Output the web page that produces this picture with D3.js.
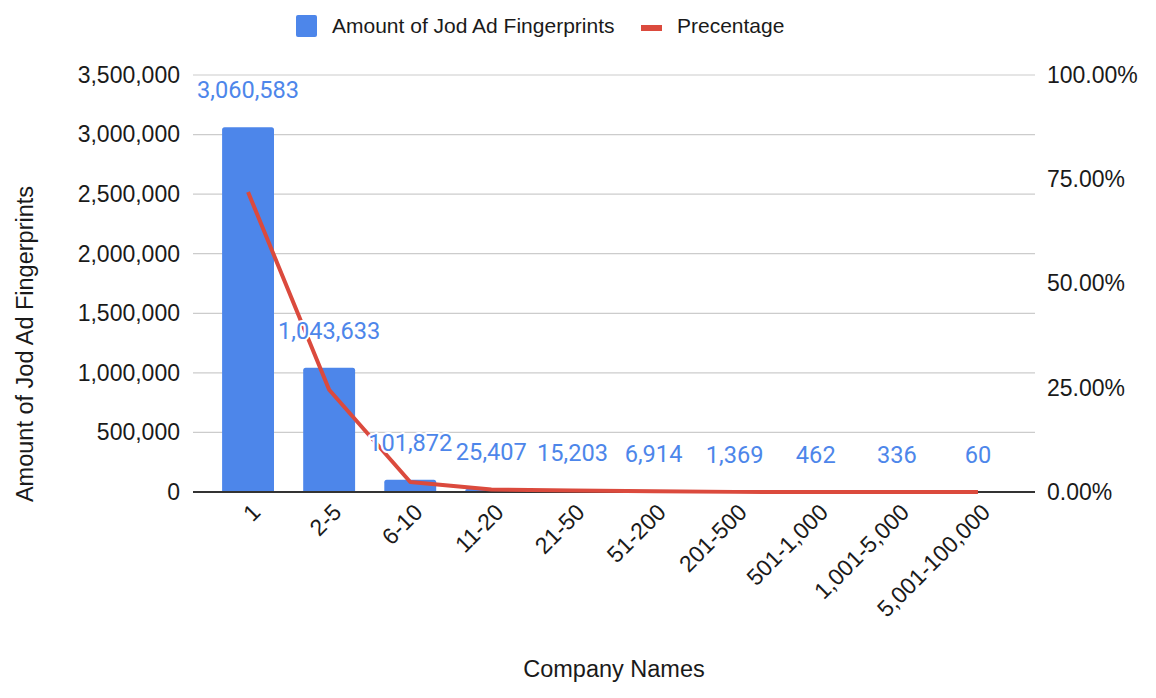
<!DOCTYPE html>
<html>
<head>
<meta charset="utf-8">
<script src="https://cdn.jsdelivr.net/npm/d3@7"></script>
<style>
  html, body { margin: 0; padding: 0; background: #fff; }
  svg { display: block; }
</style>
</head>
<body>
<svg id="chart" width="1156" height="698"></svg>
<script>
// ---- data ----
const categories = ["1", "2-5", "6-10", "11-20", "21-50", "51-200", "201-500", "501-1,000", "1,001-5,000", "5,001-100,000"];
const amounts = [3060583, 1043633, 101872, 25407, 15203, 6914, 1369, 462, 336, 60];
const percentages = [0.7192, 0.2452, 0.0239, 0.0060, 0.0036, 0.0016, 0.0003, 0.0001, 0.0001, 0.0000];
const leftTicks = [0, 500000, 1000000, 1500000, 2000000, 2500000, 3000000, 3500000];
const rightTicks = [0, 0.25, 0.5, 0.75, 1];
const seriesNames = ["Amount of Jod Ad Fingerprints", "Precentage"];
const xTitle = "Company Names";
const yTitle = "Amount of Jod Ad Fingerprints";

// ---- styles ----
const BLUE = "#4d86ea";
const RED = "#db4a3d";
const TICK_FONT = "'Liberation Sans', Arial, Helvetica, sans-serif";
const LABEL_FONT = "Roboto, 'Liberation Sans', sans-serif";
const TEXT_COLOR = "#1a1a1a";

const svg = d3.select("#chart");
const plot = { left: 193, right: 1035, top: 75, bottom: 492 };

const x = d3.scaleBand().domain(categories).range([207.5, 1018.5]).paddingInner(0.36).paddingOuter(0.18);
const y = d3.scaleLinear().domain([0, 3500000]).range([plot.bottom, plot.top]);
const y2 = d3.scaleLinear().domain([0, 1]).range([plot.bottom, plot.top]);

// gridlines
svg.append("g").selectAll("line").data(leftTicks.filter(d => d !== 0)).join("line")
  .attr("x1", plot.left).attr("x2", plot.right)
  .attr("y1", d => y(d)).attr("y2", d => y(d))
  .attr("stroke", "#cccccc").attr("stroke-width", 1.2);

// left axis
const leftAxis = svg.append("g").attr("transform", `translate(${plot.left},0)`)
  .call(d3.axisLeft(y).tickValues(leftTicks).tickSize(0).tickPadding(13).tickFormat(d3.format(",")));
leftAxis.select(".domain").remove();
leftAxis.selectAll("text").attr("font-family", TICK_FONT).attr("font-size", 23).attr("fill", TEXT_COLOR);

// right axis
const rightAxis = svg.append("g").attr("transform", `translate(${plot.right},0)`)
  .call(d3.axisRight(y2).tickValues(rightTicks).tickSize(0).tickPadding(12).tickFormat(d3.format(".2%")));
rightAxis.select(".domain").remove();
rightAxis.selectAll("text").attr("font-family", TICK_FONT).attr("font-size", 23).attr("fill", TEXT_COLOR);

// bars (rounded top corners)
const r = 2.5;
svg.append("g").selectAll("path").data(amounts).join("path")
  .attr("d", (d, i) => {
    const x0 = x(categories[i]), w = x.bandwidth();
    const yt = y(d), yb = y(0);
    const rr = Math.min(r, (yb - yt) / 2);
    return `M${x0},${yb} L${x0},${yt + rr} Q${x0},${yt} ${x0 + rr},${yt} L${x0 + w - rr},${yt} Q${x0 + w},${yt} ${x0 + w},${yt + rr} L${x0 + w},${yb} Z`;
  })
  .attr("fill", BLUE);

// baseline
svg.append("line").attr("x1", plot.left).attr("x2", plot.right)
  .attr("y1", y(0)).attr("y2", y(0)).attr("stroke", "#333").attr("stroke-width", 2);

// percentage line
const line = d3.line()
  .x((d, i) => x(categories[i]) + x.bandwidth() / 2)
  .y(d => y2(d));
svg.append("path").datum(percentages)
  .attr("d", line).attr("fill", "none").attr("stroke", RED).attr("stroke-width", 4)
  .attr("stroke-linejoin", "round");

// data labels
svg.append("g").selectAll("text").data(amounts).join("text")
  .attr("x", (d, i) => x(categories[i]) + x.bandwidth() / 2)
  .attr("y", d => y(d) - 29)
  .attr("text-anchor", "middle")
  .attr("font-family", LABEL_FONT).attr("font-size", 23.6)
  .attr("fill", BLUE)
  .attr("stroke", "#fff").attr("stroke-width", 4).attr("paint-order", "stroke")
  .attr("stroke-linejoin", "round")
  .text(d => d3.format(",")(d));

// x axis labels
const xAxis = svg.append("g").attr("transform", `translate(0,${plot.bottom})`)
  .call(d3.axisBottom(x).tickSize(0).tickPadding(0));
xAxis.select(".domain").remove();
xAxis.selectAll("text")
  .attr("font-family", TICK_FONT).attr("font-size", 23).attr("fill", TEXT_COLOR)
  .attr("text-anchor", "end")
  .attr("dy", "0.35em").attr("y", 0)
  .attr("transform", "translate(8,16) rotate(-45)");

// axis titles
svg.append("text").attr("x", 614).attr("y", 677).attr("text-anchor", "middle")
  .attr("font-family", TICK_FONT).attr("font-size", 23.5).attr("fill", TEXT_COLOR).text(xTitle);
svg.append("text").attr("transform", "translate(33,344) rotate(-90)").attr("text-anchor", "middle")
  .attr("font-family", TICK_FONT).attr("font-size", 23.5).attr("fill", TEXT_COLOR).text(yTitle);

// legend
const lg = svg.append("g");
lg.append("rect").attr("x", 296).attr("y", 15).attr("width", 21).attr("height", 22).attr("rx", 2).attr("fill", BLUE);
lg.append("text").attr("x", 332).attr("y", 33).attr("font-family", TICK_FONT).attr("font-size", 21).attr("fill", TEXT_COLOR).text(seriesNames[0]);
lg.append("rect").attr("x", 641).attr("y", 25).attr("width", 21).attr("height", 6).attr("fill", RED);
lg.append("text").attr("x", 677).attr("y", 33).attr("font-family", TICK_FONT).attr("font-size", 21).attr("fill", TEXT_COLOR).text(seriesNames[1]);
</script>
</body>
</html>
